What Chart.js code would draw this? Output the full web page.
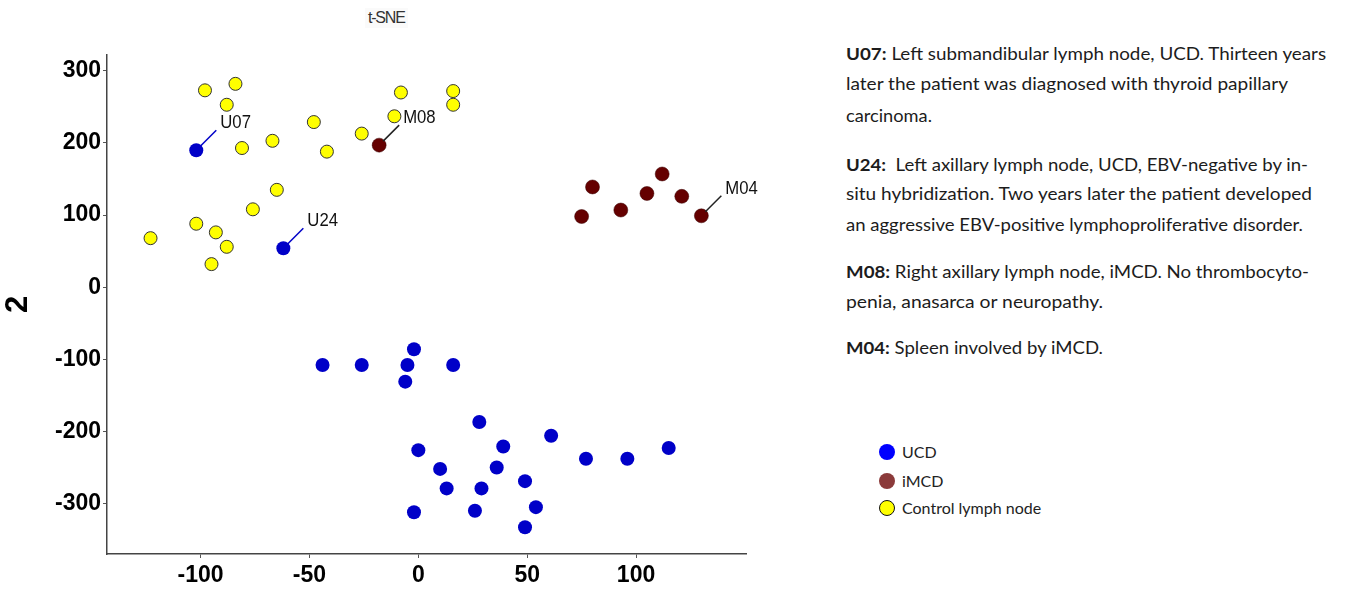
<!DOCTYPE html>
<html>
<head>
<meta charset="utf-8">
<script src="https://cdn.jsdelivr.net/npm/chart.js@4.4.1/dist/chart.umd.min.js"></script>
<style>
  html, body { margin: 0; padding: 0; background: #ffffff; }
  body { width: 1368px; height: 590px; position: relative; overflow: hidden; font-family: "Lato", "Open Sans", sans-serif; }
  #wrap { position: absolute; left: 0; top: 0; width: 770px; height: 590px; }
  #title { position: absolute; left: 365px; top: 8px; font-family: "Liberation Sans", Arial, sans-serif; font-size: 16px; letter-spacing: -1.2px; color: #333; background: #fafafa; padding: 1px 3px; }
  .ln { position: absolute; left: 846px; white-space: nowrap; font-size: 17px; line-height: 20px; color: #1c1c1c; transform-origin: 0 50%; }
  .ln b { font-weight: 700; }
  #legend { position: absolute; left: 878px; top: 440px; }
  .li { position: absolute; left: 0; white-space: nowrap; font-size: 16px; line-height: 18px; color: #222; }
  .mk { position: absolute; left: 1px; width: 16px; height: 16px; border-radius: 50%; box-sizing: border-box; }
  .li span.t { position: absolute; left: 24px; top: -9px; }
</style>
</head>
<body>
<div id="wrap"><canvas id="c" width="770" height="590"></canvas></div>
<div id="title">t-SNE</div>
<div id="notes"></div>
<div id="legend"></div>
<script>
// ---- data ----
const xTicks = [-100, -50, 0, 50, 100];
const yTicks = [-300, -200, -100, 0, 100, 200, 300];

const seriesNames = ['UCD', 'iMCD', 'Control lymph node'];

const ucdX = [-102, -62, -44, -26, -5, -2, -6, 16, 28, 61, 39, 0, 77, 96, 115, 36, 10, 49, 13, 29, 54, -2, 26, 49];
const ucdY = [190, 54, -108, -108, -108, -86, -131, -108, -187, -206, -221, -226, -238, -238, -223, -250, -252, -269, -279, -279, -305, -312, -310, -333];
const ucdTags = ['U07', 'U24', '', '', '', '', '', '', '', '', '', '', '', '', '', '', '', '', '', '', '', '', '', ''];

const imcdX = [-18, 80, 75, 93, 105, 112, 121, 130];
const imcdY = [197, 139, 98, 107, 130, 157, 126, 99];
const imcdTags = ['M08', '', '', '', '', '', '', 'M04'];

const ctrlX = [-98, -84, -88, -81, -67, -48, -42, -26, -11, -8, 16, 16, -65, -76, -102, -93, -88, -123, -95];
const ctrlY = [273, 282, 253, 193, 203, 229, 188, 213, 237, 270, 272, 253, 135, 108, 88, 76, 56, 68, 32];
const ctrlTags = ['', '', '', '', '', '', '', '', '', '', '', '', '', '', '', '', '', '', ''];

const noteLines = [
  ['<b>U07:</b> Left submandibular lymph node, UCD. Thirteen years', 54, 480],
  ['later the patient was diagnosed with thyroid papillary', 84, 442],
  ['carcinoma.', 116, 86],
  ['<b>U24:</b>&nbsp; Left axillary lymph node, UCD, EBV-negative by in-', 165, 462],
  ['situ hybridization. Two years later the patient developed', 194, 466],
  ['an aggressive EBV-positive lymphoproliferative disorder.', 225, 457],
  ['<b>M08:</b> Right axillary lymph node, iMCD. No thrombocyto-', 272, 463],
  ['penia, anasarca or neuropathy.', 302, 257],
  ['<b>M04:</b> Spleen involved by iMCD.', 348, 257]
];

// ---- styles ----
const plotColors = ['#0000c8', '#650000', '#ffff00'];
const legendColors = ['#0000ff', '#8b3a3a', '#ffff00'];
const tagLineColors = ['#0000c8', '#222222', '#650000'];

function pts(xs, ys) { return xs.map((x, i) => ({ x: x, y: ys[i] })); }
const tagSets = [ucdTags, imcdTags, ctrlTags];

const tagPlugin = {
  id: 'tags',
  afterDatasetsDraw(chart) {
    const ctx = chart.ctx;
    chart.data.datasets.forEach((ds, di) => {
      const meta = chart.getDatasetMeta(di);
      const tags = tagSets[di];
      meta.data.forEach((el, i) => {
        const t = tags[i];
        if (!t) return;
        const x = el.x, y = el.y;
        ctx.save();
        ctx.strokeStyle = tagLineColors[di];
        ctx.lineWidth = 1.5;
        ctx.beginPath();
        ctx.moveTo(x + 4, y - 4);
        ctx.lineTo(x + 20, y - 20);
        ctx.stroke();
        ctx.translate(x + 24, y - 27);
        ctx.scale(0.88, 1);
        ctx.fillStyle = '#111';
        ctx.font = '19px "Liberation Sans", Arial, sans-serif';
        ctx.textAlign = 'left';
        ctx.textBaseline = 'middle';
        ctx.fillText(t, 0, 0);
        ctx.restore();
      });
    });
  }
};

const tickFont = { family: '"Liberation Sans", Arial, sans-serif', size: 23, weight: 'bold' };

new Chart(document.getElementById('c'), {
  type: 'scatter',
  data: {
    datasets: [
      { label: seriesNames[0], data: pts(ucdX, ucdY), backgroundColor: plotColors[0], borderWidth: 0, pointRadius: 7 },
      { label: seriesNames[1], data: pts(imcdX, imcdY), backgroundColor: plotColors[1], borderColor: '#3a0000', borderWidth: 0.5, pointRadius: 7 },
      { label: seriesNames[2], data: pts(ctrlX, ctrlY), backgroundColor: plotColors[2], borderColor: '#333', borderWidth: 1, pointRadius: 6.5 }
    ]
  },
  options: {
    responsive: false,
    animation: false,
    devicePixelRatio: 1,
    events: [],
    layout: { padding: { top: 55, right: 24, left: 0, bottom: 0 } },
    plugins: { legend: { display: false }, tooltip: { enabled: false }, title: { display: false } },
    scales: {
      x: {
        type: 'linear', min: -143, max: 150.5,
        afterBuildTicks: s => { s.ticks = xTicks.map(v => ({ value: v })); },
        afterFit: s => { s.height = 36; },
        grid: { display: true, drawOnChartArea: false, drawTicks: true, tickLength: 4, color: '#555', tickWidth: 1 },
        border: { display: true, color: '#444', width: 1.5 },
        ticks: { font: tickFont, color: '#000', padding: 4, maxRotation: 0 }
      },
      y: {
        type: 'linear', min: -370, max: 322,
        afterBuildTicks: s => { s.ticks = yTicks.map(v => ({ value: v })); },
        afterFit: s => { s.width = 107; },
        grid: { display: true, drawOnChartArea: false, drawTicks: true, tickLength: 4, color: '#555', tickWidth: 1 },
        border: { display: true, color: '#444', width: 1.5 },
        ticks: { font: tickFont, color: '#000', padding: 2 },
        title: { display: true, text: '2', color: '#000', font: { family: '"Liberation Sans", Arial, sans-serif', size: 31, weight: 'bold' }, padding: { top: 0, bottom: 0 } }
      }
    }
  },
  plugins: [tagPlugin]
});

// ---- notes (right panel) ----
const notes = document.getElementById('notes');
noteLines.forEach(([html, cy, w]) => {
  const d = document.createElement('div');
  d.className = 'ln';
  d.innerHTML = html;
  d.style.top = (cy - 10) + 'px';
  notes.appendChild(d);
  const nat = d.getBoundingClientRect().width;
  d.style.transform = 'scaleX(' + (w / nat).toFixed(4) + ')';
});

// ---- legend ----
const legend = document.getElementById('legend');
const legendY = [12, 41, 68];
seriesNames.forEach((n, i) => {
  const li = document.createElement('div');
  li.className = 'li';
  li.style.top = legendY[i] + 'px';
  const mk = document.createElement('div');
  mk.className = 'mk';
  mk.style.top = '-8px';
  mk.style.background = legendColors[i];
  if (i === 2) mk.style.border = '1.5px solid #111';
  const t = document.createElement('span');
  t.className = 't';
  t.textContent = n;
  li.appendChild(mk);
  li.appendChild(t);
  legend.appendChild(li);
});
</script>
</body>
</html>
